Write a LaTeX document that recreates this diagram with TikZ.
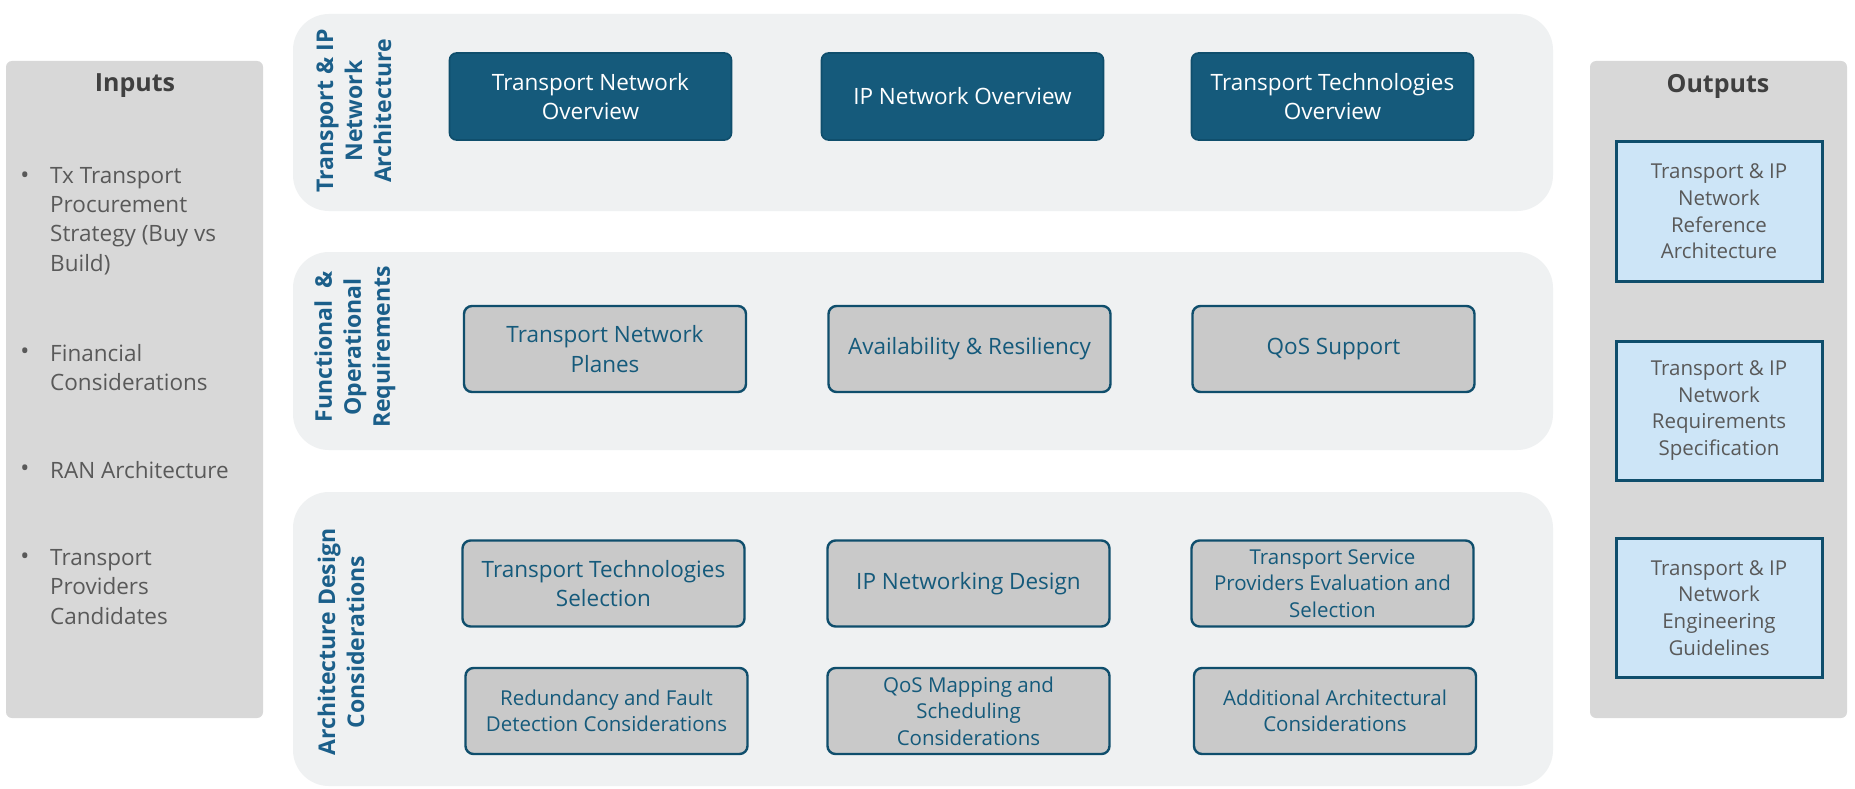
\documentclass[tikz,border=0pt]{standalone}
\usepackage{fontspec}
\setmainfont{Open Sans}
\definecolor{panelgray}{HTML}{D8D8D8}
\definecolor{bandgray}{HTML}{EFF1F2}
\definecolor{dkteal}{HTML}{155A7B}
\definecolor{edgeteal}{HTML}{0F4E6C}
\definecolor{labelblue}{HTML}{1B5F8A}
\definecolor{boxgray}{HTML}{C9C9C9}
\definecolor{graytext}{HTML}{595959}
\definecolor{titlegray}{HTML}{404040}
\definecolor{outblue}{HTML}{CDE5F7}
\tikzset{
  panel/.style={fill=panelgray, rounded corners=6pt},
  band/.style={fill=bandgray, rounded corners=36pt},
  bandlabel/.style={rotate=90, align=center, text=labelblue, inner sep=0pt,
    font=\fontsize{23}{29}\selectfont\bfseries},
  paneltitle/.style={text=titlegray, inner sep=0pt, font=\fontsize{25}{30}\selectfont\bfseries},
  darkbox/.style={draw=edgeteal, line width=1.6pt, fill=dkteal, rounded corners=7pt,
    text=white, align=center, minimum width=282pt, minimum height=87pt, inner sep=0pt,
    font=\fontsize{22.5}{29.5}\selectfont},
  graybox/.style={draw=edgeteal, line width=2.4pt, fill=boxgray, rounded corners=8pt,
    text=dkteal, align=center, minimum width=282pt, minimum height=86pt, inner sep=0pt,
    font=\fontsize{22.5}{29.5}\selectfont},
  smalltext/.style={font=\fontsize{20.5}{26.5}\selectfont},
  outbox/.style={draw=edgeteal, line width=3pt, fill=outblue, text=graytext,
    align=center, minimum width=206pt, minimum height=139pt, inner sep=0pt,
    font=\fontsize{20.5}{26.7}\selectfont},
  inputitem/.style={anchor=west, align=left, text=graytext, inner sep=0pt,
    font=\fontsize{22.5}{29.3}\selectfont},
  bulletmark/.style={text=graytext, inner sep=0pt, font=\fontsize{24}{28}\selectfont},
}
\begin{document}
\begin{tikzpicture}[x=1pt,y=-1pt]
\useasboundingbox (0,0) rectangle (1855,789);
\fill[white] (0,0) rectangle (1855,789);

% side panels
\path[panel] (6,61) rectangle (263,718);
\path[panel] (1590,61) rectangle (1847,718);
\node[paneltitle] (intitle) at (135,86) {Inputs};
\node[paneltitle] (outtitle) at (1718,86) {Outputs};

% input bullets
\node[bulletmark] (b1) at (25,178) {•};
\node[inputitem] (in1) at (50,221) {Tx Transport\\Procurement\\Strategy (Buy vs\\Build)};
\node[bulletmark] (b2) at (25,354) {•};
\node[inputitem] (in2) at (50,367.5) {Financial\\Considerations};
\node[bulletmark] (b3) at (25,471) {•};
\node[inputitem] (in3) at (50,470) {RAN Architecture};
\node[bulletmark] (b4) at (25,559) {•};
\node[inputitem] (in4) at (50,587) {Transport\\Providers\\Candidates};

% output boxes
\node[outbox] (out1) at (1719,211.5) {Transport \& IP\\Network\\Reference\\Architecture};
\node[outbox] (out2) at (1719,410.5) {Transport \& IP\\Network\\Requirements\\Specification};
\node[outbox] (out3) at (1719,608) {Transport \& IP\\Network\\Engineering\\Guidelines};

% bands
\path[band] (293,14) rectangle (1553,211);
\path[band] (293,252) rectangle (1553,450);
\path[band] (293,492) rectangle (1553,786);

\node[bandlabel] (l1) at (354,111) {Transport \& IP\\Network\\Architecture};
\node[bandlabel] (l2) at (355,347) {Functional~~\&\\Operational\\Requirements};
\node[bandlabel] (l3) at (341,642) {Architecture Design\\Considerations};

% band 1
\node[darkbox] (a1) at (590.5,96.5) {Transport Network\\Overview};
\node[darkbox] (a2) at (962.5,96.5) {IP Network Overview};
\node[darkbox] (a3) at (1332.5,96.5) {Transport Technologies\\Overview};

% band 2
\node[graybox] (f1) at (605,349) {Transport Network\\Planes};
\node[graybox] (f2) at (969.5,349) {Availability \& Resiliency};
\node[graybox] (f3) at (1333.5,349) {QoS Support};

% band 3
\node[graybox] (d1) at (603.5,583.5) {Transport Technologies\\Selection};
\node[graybox] (d2) at (968.5,583.5) {IP Networking Design};
\node[graybox, smalltext] (d3) at (1332.5,583.5) {Transport Service\\Providers Evaluation and\\Selection};
\node[graybox, smalltext] (d4) at (606.5,711) {Redundancy and Fault\\Detection Considerations};
\node[graybox, smalltext] (d5) at (968.5,711) {QoS Mapping and\\Scheduling\\Considerations};
\node[graybox, smalltext] (d6) at (1335,711) {Additional Architectural\\Considerations};
\end{tikzpicture}
\end{document}
